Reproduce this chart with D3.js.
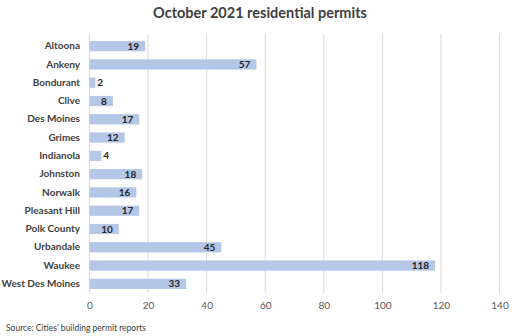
<!DOCTYPE html>
<html><head><meta charset="utf-8">
<script src="https://cdn.jsdelivr.net/npm/d3@7"></script>
<style>body{margin:0;background:#fff}svg{display:block}</style>
</head><body>
<script>
const categories = ["Altoona","Ankeny","Bondurant","Clive","Des Moines","Grimes","Indianola","Johnston","Norwalk","Pleasant Hill","Polk County","Urbandale","Waukee","West Des Moines"];
const values = [19,57,2,8,17,12,4,18,16,17,10,45,118,33];
const ticks = [0,20,40,60,80,100,120,140];

const W=512,H=336;
const svg=d3.select("body").append("svg").attr("width",W).attr("height",H);
const font="Lato, 'Open Sans', sans-serif";
const x=d3.scaleLinear().domain([0,140]).range([89.5,499.5]);
const y=d3.scaleBand().domain(categories).range([37,293]).paddingInner(0.44).paddingOuter(0.22);

svg.append("text").attr("x",260).attr("y",18).attr("text-anchor","middle")
 .attr("font-family",font).attr("font-weight","bold").attr("font-size",14.5).attr("fill","#404040")
 .text("October 2021 residential permits");

const g=svg.append("g");
g.selectAll("line.grid").data(ticks).join("line").attr("class","grid")
 .attr("x1",d=>x(d)).attr("x2",d=>x(d)).attr("y1",34).attr("y2",293)
 .attr("stroke","#d9d9d9").attr("stroke-width",1);

const xa=svg.append("g").attr("transform","translate(0,293)")
 .call(d3.axisBottom(x).tickValues(ticks).tickSize(0).tickPadding(9));
xa.select(".domain").remove();
xa.selectAll("text").attr("font-family",font).attr("font-size",10).attr("fill","#595959");

const data=categories.map((c,i)=>({c,v:values[i]}));
g.selectAll("rect").data(data).join("rect")
 .attr("x",x(0)).attr("y",d=>y(d.c)).attr("width",d=>x(d.v)-x(0)).attr("height",y.bandwidth())
 .attr("fill","#b4c7e7");

g.selectAll("text.val").data(data).join("text").attr("class","val")
 .attr("x",d=>{const w=x(d.v)-x(0);return w<15? x(d.v)+2 : x(d.v)-6;})
 .attr("text-anchor",d=>(x(d.v)-x(0))<15?"start":"end")
 .attr("y",d=>y(d.c)+y.bandwidth()/2).attr("dy","0.35em")
 .attr("font-family",font).attr("font-weight","bold").attr("font-size",10).attr("fill","#262626")
 .text(d=>d.v);

const ya=svg.append("g").attr("transform","translate(80,0)")
 .call(d3.axisLeft(y).tickSize(0).tickPadding(0));
ya.select(".domain").remove();
ya.selectAll("text").attr("font-family",font).attr("font-weight","bold").attr("font-size",10).attr("fill","#404040");

svg.append("text").attr("x",6).attr("y",331).attr("font-family",font).attr("font-size",8.5).attr("fill","#404040")
 .text("Source: Cities' building permit reports");
</script>
</body></html>
